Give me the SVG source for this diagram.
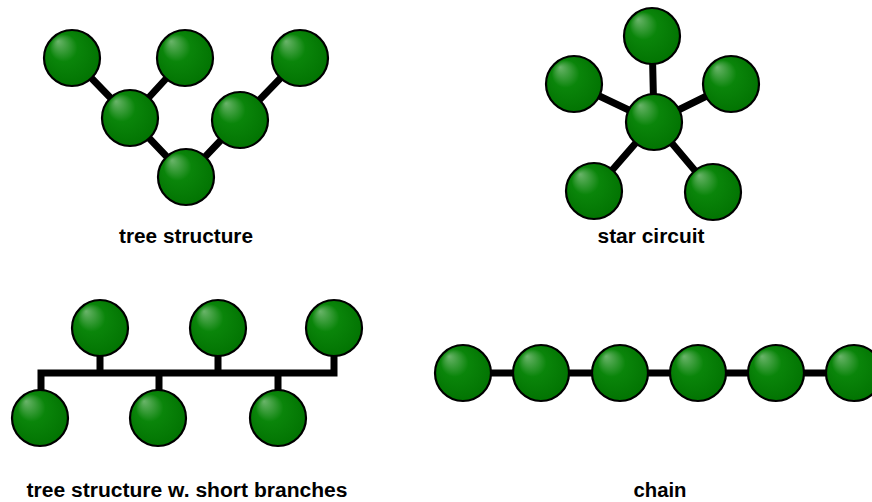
<svg xmlns="http://www.w3.org/2000/svg" width="872" height="502" viewBox="0 0 872 502">
  <defs>
    <radialGradient id="ball" cx="0.5" cy="0.5" r="0.62" fx="0.25" fy="0.2">
      <stop offset="0" stop-color="#6ab46a"/>
      <stop offset="0.4" stop-color="#0a850a"/>
      <stop offset="1" stop-color="#006f00"/>
    </radialGradient>
    <symbol id="node" overflow="visible">
      <circle cx="0" cy="0" r="28" fill="url(#ball)" stroke="#000" stroke-width="2.2"/>
    </symbol>
  </defs>
  <style>
    .wire { fill: none; stroke: #000; stroke-width: 7; stroke-linecap: butt; stroke-linejoin: miter; }
    .label { font-family: "Liberation Sans", Arial, sans-serif; font-weight: bold; font-size: 20px; fill: #000; text-anchor: middle; }
  </style>
  <rect width="872" height="502" fill="#fff"/>

  <!-- connectors -->
  <g id="connectors">
    <!-- tree structure -->
    <path class="wire" d="M72,58 L130,118 L186,177 L240,120 L300,58 M185,58 L130,118"/>
    <!-- star circuit -->
    <path class="wire" d="M654,122 L652,36 M654,122 L574,84 M654,122 L731,84 M654,122 L594,191 M654,122 L713,192"/>
    <!-- tree with short branches: bus and drops -->
    <path class="wire" d="M41,418 V373 H334 V328 M100,328 V373 M218,328 V373 M159,373 V418 M278,373 V418"/>
    <!-- chain -->
    <path class="wire" d="M463,373 H872"/>
  </g>

  <!-- tree structure -->
  <g id="tree">
    <use id="tree-n1" href="#node" x="72" y="58"/>
    <use id="tree-n2" href="#node" x="185" y="58"/>
    <use id="tree-n3" href="#node" x="300" y="58"/>
    <use id="tree-n4" href="#node" x="130" y="118"/>
    <use id="tree-n5" href="#node" x="240" y="120"/>
    <use id="tree-n6" href="#node" x="186" y="177"/>
    <text class="label" x="186" y="243" textLength="134" lengthAdjust="spacingAndGlyphs">tree structure</text>
  </g>

  <!-- star circuit -->
  <g id="star">
    <use id="star-top" href="#node" x="652" y="36"/>
    <use id="star-left" href="#node" x="574" y="84"/>
    <use id="star-right" href="#node" x="731" y="84"/>
    <use id="star-bl" href="#node" x="594" y="191"/>
    <use id="star-br" href="#node" x="713" y="192"/>
    <use id="star-hub" href="#node" x="654" y="122"/>
    <text class="label" x="651" y="243" textLength="107" lengthAdjust="spacingAndGlyphs">star circuit</text>
  </g>

  <!-- tree structure with short branches -->
  <g id="bus-tree">
    <use id="bus-t1" href="#node" x="100" y="328"/>
    <use id="bus-t2" href="#node" x="218" y="328"/>
    <use id="bus-t3" href="#node" x="334" y="328"/>
    <use id="bus-b1" href="#node" x="40" y="418"/>
    <use id="bus-b2" href="#node" x="158" y="418"/>
    <use id="bus-b3" href="#node" x="278" y="418"/>
    <text class="label" x="187" y="497" textLength="321" lengthAdjust="spacingAndGlyphs">tree structure w. short branches</text>
  </g>

  <!-- chain -->
  <g id="chain">
    <use id="chain-1" href="#node" x="463" y="373"/>
    <use id="chain-2" href="#node" x="541" y="373"/>
    <use id="chain-3" href="#node" x="620" y="373"/>
    <use id="chain-4" href="#node" x="698" y="373"/>
    <use id="chain-5" href="#node" x="776" y="373"/>
    <use id="chain-6" href="#node" x="854" y="373"/>
    <text class="label" x="660" y="497" textLength="53" lengthAdjust="spacingAndGlyphs">chain</text>
  </g>
</svg>
